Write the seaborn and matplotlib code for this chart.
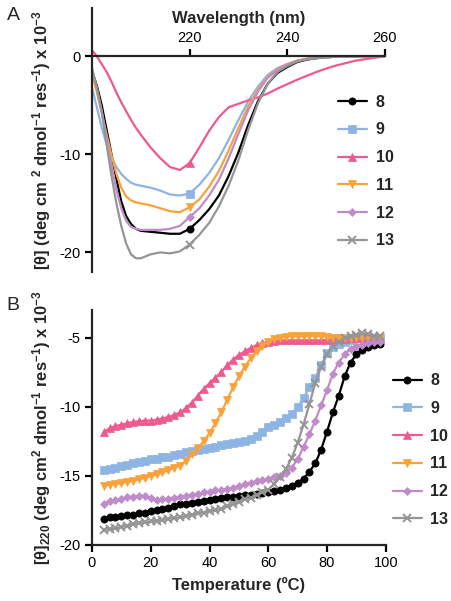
import matplotlib
matplotlib.use("Agg")
import matplotlib.pyplot as plt
import seaborn as sns

# ---------------- data ----------------
names = ["8", "9", "10", "11", "12", "13"]

wavelength = [200, 201, 202, 203, 204, 205, 206, 207, 208, 209, 210, 212, 214, 216, 218,
              220, 222, 224, 226, 228, 230, 232, 234, 236, 238, 240, 242, 244, 246, 248,
              250, 254, 260]

cd_8 = [-1.5, -3.0, -5.0, -7.5, -10.0, -12.5, -14.8, -16.3, -17.1, -17.6, -17.8, -17.9, -18.0,
        -18.1, -18.1, -17.6, -16.7, -15.6, -14.2, -12.2, -9.8, -7.0, -4.6, -2.8, -1.7, -1.1,
        -0.6, -0.35, -0.2, -0.1, -0.05, 0.0, 0.0]
cd_9 = [-3.2, -5.2, -7.3, -9.0, -10.3, -11.3, -12.0, -12.5, -12.9, -13.1, -13.2, -13.4, -13.7,
        -14.1, -14.2, -14.0, -13.1, -11.9, -10.4, -8.5, -6.5, -4.6, -3.1, -1.9, -1.2, -0.8,
        -0.45, -0.25, -0.15, -0.1, -0.05, 0.0, 0.0]
cd_10 = [0.6, 0.0, -0.8, -1.6, -2.6, -3.7, -4.7, -5.6, -6.5, -7.3, -8.0, -9.3, -10.4, -11.3,
         -11.6, -10.9, -9.3, -7.6, -6.2, -5.2, -4.85, -4.5, -4.2, -3.8, -3.3, -2.85, -2.4,
         -2.0, -1.6, -1.25, -0.95, -0.45, 0.0]
cd_11 = [-1.7, -3.7, -5.8, -8.0, -10.1, -12.0, -13.4, -14.3, -14.7, -14.9, -15.0, -15.2, -15.5,
         -15.8, -15.9, -15.4, -14.6, -13.3, -11.7, -9.6, -7.3, -5.1, -3.4, -2.1, -1.3, -0.8,
         -0.45, -0.25, -0.15, -0.1, -0.05, 0.0, 0.0]
cd_12 = [-1.5, -3.3, -5.6, -8.4, -11.2, -13.6, -15.5, -16.8, -17.4, -17.6, -17.7, -17.7, -17.7,
         -17.6, -17.3, -16.4, -15.5, -14.2, -12.6, -10.4, -7.9, -5.5, -3.6, -2.2, -1.4, -0.85,
         -0.5, -0.3, -0.15, -0.1, -0.05, 0.0, 0.0]
cd_13 = [-1.2, -3.2, -5.7, -9.0, -12.2, -15.0, -17.3, -19.1, -20.2, -20.6, -20.6, -20.2, -20.0,
         -20.1, -19.9, -19.2, -18.2, -17.0, -15.3, -13.2, -10.6, -7.5, -4.8, -2.8, -1.6, -1.0,
         -0.55, -0.3, -0.2, -0.1, -0.05, 0.0, 0.0]

temperature = [4, 6, 8, 10, 12, 14, 16, 18, 20, 22, 24, 26, 28, 30, 32, 34, 36, 38, 40, 42,
               44, 46, 48, 50, 52, 54, 56, 58, 60, 62, 64, 66, 68, 70, 72, 74, 76, 78, 80, 82,
               84, 86, 88, 90, 92, 94, 96, 98]

melt_8 = [-18.1, -18.0, -17.95, -17.9, -17.85, -17.8, -17.7, -17.65, -17.55, -17.45,
          -17.4, -17.3, -17.2, -17.05, -17.0, -16.95, -16.9, -16.8, -16.75, -16.65,
          -16.6, -16.55, -16.5, -16.45, -16.4, -16.35, -16.3, -16.25, -16.2, -16.1,
          -16.0, -15.85, -15.7, -15.5, -15.2, -14.7, -14.1, -13.1, -11.8, -10.4,
          -9.2, -7.8, -6.8, -6.2, -5.9, -5.7, -5.55, -5.45]
melt_9 = [-14.6, -14.5, -14.4, -14.3, -14.2, -14.1, -14.0, -13.9, -13.8, -13.75,
          -13.65, -13.6, -13.5, -13.4, -13.3, -13.2, -13.1, -13.05, -13.0, -12.9,
          -12.8, -12.7, -12.6, -12.55, -12.45, -12.3, -12.1, -11.8, -11.5, -11.3,
          -11.1, -10.8, -10.5, -10.0, -9.4, -8.6, -7.9, -7.0, -6.1, -5.7,
          -5.45, -5.3, -5.15, -5.05, -5.0, -5.0, -5.0, -5.0]
melt_10 = [-11.85, -11.55, -11.4, -11.3, -11.2, -11.1, -11.05, -11.0, -11.0, -10.95,
           -10.85, -10.75, -10.6, -10.4, -10.1, -9.7, -9.2, -8.7, -8.3, -7.9,
           -7.5, -7.0, -6.6, -6.25, -6.0, -5.75, -5.55, -5.4, -5.3, -5.25,
           -5.2, -5.2, -5.2, -5.2, -5.2, -5.2, -5.2, -5.2, -5.15, -5.15,
           -5.1, -5.1, -5.05, -5.05, -5.0, -5.0, -5.0, -5.0]
melt_11 = [-15.7, -15.65, -15.6, -15.5, -15.45, -15.35, -15.25, -15.15, -15.0, -14.9,
           -14.75, -14.6, -14.4, -14.25, -13.9, -13.45, -13.0, -12.5, -11.9, -11.2,
           -10.4, -9.5, -8.6, -7.8, -7.1, -6.5, -6.0, -5.6, -5.3, -5.1,
           -5.0, -4.95, -4.9, -4.9, -4.9, -4.85, -4.9, -4.9, -4.95, -5.0,
           -5.0, -5.0, -5.0, -5.0, -5.0, -5.0, -5.0, -5.0]
melt_12 = [-17.0, -16.85, -16.75, -16.65, -16.55, -16.5, -16.45, -16.45, -16.6, -16.75,
           -16.7, -16.65, -16.6, -16.5, -16.45, -16.35, -16.3, -16.2, -16.15, -16.05,
           -16.0, -15.95, -15.85, -15.75, -15.6, -15.5, -15.4, -15.3, -15.2, -15.1,
           -15.0, -14.8, -14.4, -13.8, -12.9, -12.0, -11.0, -9.9, -8.8, -7.6,
           -6.8, -6.2, -5.8, -5.6, -5.5, -5.4, -5.35, -5.3]
melt_13 = [-18.9, -18.85, -18.8, -18.7, -18.6, -18.5, -18.4, -18.35, -18.3, -18.25,
           -18.2, -18.1, -18.05, -18.0, -17.9, -17.8, -17.7, -17.65, -17.55, -17.5,
           -17.4, -17.2, -17.05, -16.9, -16.7, -16.6, -16.4, -16.2, -16.0, -15.6,
           -15.1, -14.5, -13.7, -12.6, -11.3, -9.8, -8.3, -7.1, -6.2, -5.6,
           -5.3, -5.05, -4.9, -4.8, -4.7, -4.75, -4.85, -4.9]

wl_ticks = [220, 240, 260]
cd_yticks = [-20, -10, 0]
t_ticks = [0, 20, 40, 60, 80, 100]
melt_yticks = [-20, -15, -10, -5]

# ---------------- style ----------------
sns.set_style("ticks")
plt.rcParams["font.family"] = ["Liberation Sans", "DejaVu Sans"]
plt.rcParams["mathtext.fontset"] = "custom"
plt.rcParams["mathtext.bf"] = "Liberation Sans:bold"
plt.rcParams["mathtext.rm"] = "Liberation Sans:bold"
plt.rcParams["mathtext.default"] = "bf"
plt.rcParams["axes.unicode_minus"] = False

colors = ["#000000", "#8DB4E2", "#EE5A8E", "#F9A23C", "#C08BC9", "#959595"]
markers = ["o", "s", "^", "v", "D", "x"]
msizes = [5.2, 5.2, 5.6, 5.6, 4.4, 5.2]

cd_series = [cd_8, cd_9, cd_10, cd_11, cd_12, cd_13]
melt_series = [melt_8, melt_9, melt_10, melt_11, melt_12, melt_13]

fig = plt.figure(figsize=(4.52, 6.01), dpi=100)
axA = fig.add_axes([0.2035, 0.5474, 0.648, 0.439])
axB = fig.add_axes([0.2035, 0.0932, 0.650, 0.391])

lw = 1.6
spw = 1.6
mark_idx = [wavelength.index(220)]

for name, ys, c, m, ms in zip(names, cd_series, colors, markers, msizes):
    sns.lineplot(x=wavelength, y=ys, ax=axA, color=c, lw=lw, marker=m, ms=ms,
                 markevery=mark_idx, markeredgecolor=c, markeredgewidth=1.4 if m == "x" else 0.5,
                 label=name, estimator=None, sort=False)

for name, ys, c, m, ms in zip(names, melt_series, colors, markers, msizes):
    sns.lineplot(x=temperature, y=ys, ax=axB, color=c, lw=lw, marker=m, ms=ms,
                 markeredgecolor=c, markeredgewidth=1.4 if m == "x" else 0.5,
                 label=name, estimator=None, sort=False)

# ---- panel A axes ----
axA.set_xlim(200, 260)
axA.set_ylim(-22.0, 4.9)
axA.spines["top"].set_position(("data", 0))
axA.spines["bottom"].set_visible(False)
axA.spines["right"].set_visible(False)
axA.xaxis.tick_top()
axA.xaxis.set_label_position("top")
axA.set_xticks(wl_ticks)
axA.set_yticks(cd_yticks)
axA.set_xlabel("Wavelength (nm)", fontsize=12, fontweight="bold", labelpad=6)
axA.set_ylabel(r"[θ] (deg cm $^{2}$ dmol$^{-1}$ res$^{-1}$) x 10$^{-3}$",
               fontsize=12, fontweight="bold", labelpad=5)

# ---- panel B axes ----
axB.set_xlim(0, 100)
axB.set_ylim(-20, -3)
axB.spines["top"].set_visible(False)
axB.spines["right"].set_visible(False)
axB.set_xticks(t_ticks)
axB.set_yticks(melt_yticks)
axB.set_xlabel("Temperature (ºC)", fontsize=12, fontweight="bold", labelpad=5)
axB.set_ylabel(r"[θ]$_{220}$ (deg cm$^{2}$ dmol$^{-1}$ res$^{-1}$) x 10$^{-3}$",
               fontsize=12, fontweight="bold", labelpad=5)

for ax in (axA, axB):
    for s in ax.spines.values():
        s.set_linewidth(spw)
    ax.tick_params(direction="out", length=5, width=spw, labelsize=10.5, pad=3, colors="black")
    ax.grid(False)

legprops = dict(frameon=False, borderpad=0, borderaxespad=0, handlelength=1.8,
                handletextpad=0.55, labelspacing=0.8, prop={"weight": "bold", "size": 11.5})
hA = axA.get_lines()[:6]
axA.legend(hA, names, loc="center left", bbox_to_anchor=(0.84, 0.381), **legprops)
hB = axB.get_lines()[:6]
axB.legend(hB, names, loc="center left", bbox_to_anchor=(1.024, 0.404), **legprops)

fig.text(0.015, 0.975, "A", fontsize=14, va="center", ha="left")
fig.text(0.015, 0.492, "B", fontsize=14, va="center", ha="left")

fig.savefig("out.png", dpi=100)
